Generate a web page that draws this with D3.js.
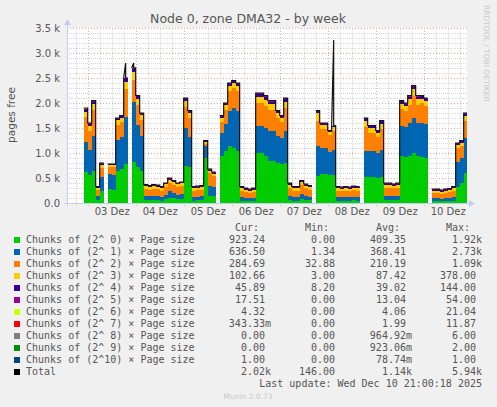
<!DOCTYPE html>
<html>
<head>
<meta charset="utf-8">
<script src="https://cdnjs.cloudflare.com/ajax/libs/d3/7.8.5/d3.min.js"></script>
<style>
body { margin: 0; background: #f0f0f0; }
svg { display: block; }
</style>
</head>
<body>
<div id="viz"></div>
<script>
// data: one value per 2-hour bin, first bin starts Dec 2 14:00 (null = no data)
var N = null;
var binStart = Date.UTC(2025, 11, 2, 14, 0);
var binHours = 2;

var chunks0 = [N,N,N,N,620,560,650,60,250,N, 280,260,650,680,780,N,820,720,650,70,
  60,70,65,50,80,110,95,80,85,750, 720,50,55,60,900,150,140,N,950,1050,
  1150,1100,1050,50,45,40,45,1000,1000,950, 850,850,800,780,800,60,50,50,80,60,
  55,N,550,580,580,560,570,50,45,50, 45,55,50,N,520,520,520,500,520,55,
  55,60,55,950,920,950,1000,950,920,900, N,40,40,35,40,40,50,330,400,600];
var chunks1 = [N,N,N,N,600,500,700,80,280,N, 300,310,620,640,950,N,1200,850,700,80,
  80,80,80,70,90,130,110,90,95,750, 600,70,70,75,250,200,180,N,450,530,
  700,800,800,70,60,55,60,550,550,550, 600,600,550,520,650,90,70,70,110,85,
  75,N,600,530,530,470,500,70,70,70, 70,70,70,N,530,520,520,500,540,90,
  90,85,90,600,600,650,700,650,680,680, N,55,55,50,55,60,70,500,500,700];
var chunks2 = [N,N,N,N,500,380,520,120,180,N, 140,150,300,300,550,N,450,400,320,140,
  130,140,135,130,150,170,160,150,160,420, 380,130,135,135,40,250,220,N,230,290,
  400,400,400,130,120,110,120,450,450,450, 420,420,350,320,450,160,130,130,170,150,
  140,N,500,380,380,330,380,130,130,130, 130,135,130,N,480,370,370,330,420,165,
  165,150,165,330,320,370,450,370,400,370, N,110,110,100,110,115,130,270,250,350];
var chunks3 = [N,N,N,N,110,100,110,40,55,N, 40,40,85,85,150,N,160,120,90,50,
  50,50,50,50,52,58,55,52,52,120, 100,50,50,50,40,50,50,N,80,90,
  100,100,100,50,45,45,45,120,120,120, 110,110,100,90,130,55,50,50,55,55,
  50,N,150,70,70,55,65,50,45,50, 45,50,50,N,110,90,90,80,110,55,
  55,55,55,110,105,115,130,115,90,90, N,45,45,45,45,45,50,60,60,100];
var chunks4 = [N,N,N,N,45,40,45,18,25,N, 15,15,30,30,50,N,50,45,30,20,
  20,20,20,20,18,22,20,18,18,40, 35,20,20,20,12,20,20,N,30,30,
  40,40,40,20,20,20,20,55,55,55, 50,50,35,30,50,25,20,20,25,20,
  20,N,40,30,30,25,25,20,20,20, 20,20,20,N,45,40,40,30,45,25,
  25,20,25,45,40,45,50,45,45,45, N,20,20,20,20,20,20,30,30,35];
var chunks5 = [N,N,N,N,15,12,15,6,6,N, 4,4,10,10,15,N,15,12,8,7,
  7,7,7,7,7,7,7,7,7,12, 10,7,7,7,5,7,7,N,7,7,
  7,7,7,7,7,7,7,17,17,17, 15,15,10,8,15,7,7,7,7,7,
  7,N,7,7,7,7,7,7,7,7, 7,7,7,N,10,7,7,7,10,7,
  7,7,7,10,10,12,14,12,10,10, N,7,7,7,7,7,7,7,7,10];
var chunks6 = [N,N,N,N,5,4,5,3,2,N, 1,1,3,3,4,N,3,2,1,2,
  2,2,2,2,2,2,2,2,2,5, 3,2,2,2,2,2,2,N,2,2,
  2,2,2,2,2,2,2,5,5,5, 3,3,3,1,3,2,2,2,2,2,
  2,N,2,2,2,2,2,2,2,2, 2,2,2,N,3,2,2,2,3,2,
  2,2,2,3,3,5,4,5,3,3, N,2,2,2,2,2,2,2,2,3];
var chunks7 = [N,N,N,N,3,2,3,1,1,N, 0,0,1,1,1,N,1,1,1,1,
  1,1,1,1,1,1,1,1,1,2, 1,1,1,1,1,1,1,N,1,1,
  1,1,1,1,1,1,1,2,2,2, 1,1,1,1,1,1,1,1,1,1,
  1,N,1,1,1,1,1,1,1,1, 1,1,1,N,1,1,1,1,1,1,
  1,1,1,1,1,2,1,2,1,1, N,1,1,1,1,1,1,1,1,0];
var chunks8 = [N,N,N,N,1,1,1,1,1,N, 0,0,1,1,0,N,1,0,0,0,
  0,0,0,0,0,0,0,0,0,1, 1,0,0,0,0,0,0,N,0,0,
  0,0,0,0,0,0,0,1,1,1, 1,1,1,0,1,0,0,0,0,0,
  0,N,0,0,0,0,0,0,0,0, 0,0,0,N,1,0,0,0,1,0,
  0,0,0,1,1,1,1,1,1,1, N,0,0,0,0,0,0,0,0,0];
var chunks9 = [N,N,N,N,1,1,1,1,1,N, 1,1,1,1,1,N,1,1,1,1,
  1,1,1,1,1,1,1,1,1,1, 1,1,1,1,1,1,1,N,1,1,
  1,1,1,1,1,1,1,1,1,1, 1,1,1,1,1,1,1,1,1,1,
  1,N,0,0,0,0,0,0,0,0, 0,0,0,N,0,0,0,0,0,0,
  0,0,0,0,0,0,0,0,0,0, N,0,0,0,0,0,0,0,0,0];
var chunks10 = [N,N,N,N,0,0,0,0,0,N, 0,0,0,0,0,N,0,0,0,0,
  0,0,0,0,0,0,0,0,0,0, 0,0,0,0,0,0,0,N,0,0,
  0,0,0,0,0,0,0,0,0,0, 0,0,0,0,0,0,0,0,0,0,
  0,N,0,0,0,0,0,0,0,0, 0,0,0,N,0,0,0,0,0,0,
  0,0,0,0,0,0,0,0,0,0, N,0,1,1,1,1,1,1,1,1];
var total = [N,N,N,N,1900,1600,2050,330,800,N, 780,780,1700,1750,2800,N,2800,2150,1800,370,
  350,370,360,330,400,500,450,400,420,2100, 1850,330,340,350,1250,680,620,N,1750,2000,
  2400,2450,2400,330,300,280,300,2200,2200,2150, 2050,2050,1850,1750,2100,400,330,330,450,380,
  350,N,1850,1600,1600,1450,3260,330,320,330, 320,340,330,N,1700,1550,1550,1450,1650,400,
  400,380,400,2050,2000,2150,2350,2150,2150,2100, N,280,280,260,280,290,330,1200,1250,1800];

var seriesNames = ['Chunks of (2^ 0) × Page size', 'Chunks of (2^ 1) × Page size',
  'Chunks of (2^ 2) × Page size', 'Chunks of (2^ 3) × Page size',
  'Chunks of (2^ 4) × Page size', 'Chunks of (2^ 5) × Page size',
  'Chunks of (2^ 6) × Page size', 'Chunks of (2^ 7) × Page size',
  'Chunks of (2^ 8) × Page size', 'Chunks of (2^ 9) × Page size',
  'Chunks of (2^10) × Page size', 'Total'];
var curVals = ['923.24', '636.50', '284.69', '102.66', '45.89', '17.51', '4.32', '343.33m', '0.00', '0.00', '1.00', '2.02k'];
var minVals = ['0.00', '1.34', '32.88', '3.00', '8.20', '0.00', '0.00', '0.00', '0.00', '0.00', '0.00', '146.00'];
var avgVals = ['409.35', '368.41', '210.19', '87.42', '39.02', '13.04', '4.06', '1.99', '964.92m', '923.06m', '78.74m', '1.14k'];
var maxVals = ['1.92k', '2.73k', '1.09k', '378.00', '144.00', '54.00', '21.04', '11.87', '6.00', '2.00', '1.00', '5.94k'];

var yTicks = [0, 500, 1000, 1500, 2000, 2500, 3000, 3500];
var yTickLabels = ['0.0', '0.5 k', '1.0 k', '1.5 k', '2.0 k', '2.5 k', '3.0 k', '3.5 k'];
var dayLabels = ['03 Dez', '04 Dez', '05 Dez', '06 Dez', '07 Dez', '08 Dez', '09 Dez', '10 Dez'];

var colors = ['#00cc00', '#0066b3', '#ff8000', '#ffcc00', '#330099', '#990099',
  '#ccff00', '#ff0000', '#808080', '#008f00', '#00487d', '#000000'];

var seriesData = [chunks0, chunks1, chunks2, chunks3, chunks4, chunks5, chunks6,
  chunks7, chunks8, chunks9, chunks10];

// layout
var W = 497, H = 407;
var plotL = 67, plotR = 467, plotT = 28, plotB = 203;
var mono = 'DejaVu Sans Mono, monospace';
var sans = 'DejaVu Sans, sans-serif';

var svg = d3.select('#viz').append('svg')
  .attr('width', W)
  .attr('height', H);

svg.append('rect').attr('width', W).attr('height', H).attr('fill', '#f0f0f0');

var x = d3.scaleUtc()
  .domain([new Date(Date.UTC(2025, 11, 2, 13, 40)), new Date(Date.UTC(2025, 11, 10, 21, 40))])
  .range([plotL, plotR]);
var y = d3.scaleLinear().domain([0, 3500]).range([plotB, plotT]);

svg.append('rect')
  .attr('x', plotL).attr('y', plotT)
  .attr('width', plotR - plotL).attr('height', plotB - plotT)
  .attr('fill', '#ffffff');

// grid
var grid = svg.append('g');
d3.range(100, 3500, 100).filter(function (v) { return v % 500 !== 0; }).forEach(function (v) {
  grid.append('line')
    .attr('x1', plotL).attr('x2', plotR)
    .attr('y1', Math.round(y(v)) + 0.5).attr('y2', Math.round(y(v)) + 0.5)
    .attr('stroke', '#d8d8d8').attr('stroke-dasharray', '1,1');
});
var t0 = x.domain()[0], t1 = x.domain()[1];
d3.utcHour.every(6).range(t0, t1).forEach(function (t) {
  if (t.getUTCHours() === 0) return;
  var xx = Math.round(x(t)) + 0.5;
  grid.append('line')
    .attr('x1', xx).attr('x2', xx).attr('y1', plotT).attr('y2', plotB + 2)
    .attr('stroke', '#d8d8d8').attr('stroke-dasharray', '1,1');
});
yTicks.slice(1).forEach(function (v) {
  grid.append('line')
    .attr('x1', plotL).attr('x2', plotR)
    .attr('y1', Math.round(y(v)) + 0.5).attr('y2', Math.round(y(v)) + 0.5)
    .attr('stroke', '#e8a8a8').attr('stroke-dasharray', '1,2');
});
d3.utcDay.range(t0, t1).forEach(function (t) {
  var xx = Math.round(x(t)) + 0.5;
  grid.append('line')
    .attr('x1', xx).attr('x2', xx).attr('y1', plotT).attr('y2', plotB + 3)
    .attr('stroke', '#e8a8a8').attr('stroke-dasharray', '1,2');
});

// stacked areas
var keys = seriesData.map(function (s, k) { return 'c' + k; });
var rows = chunks0.map(function (v, i) {
  var r = { i: i, ok: v !== null };
  seriesData.forEach(function (s, k) { r['c' + k] = s[i] === null ? 0 : s[i]; });
  return r;
});
var stacked = d3.stack().keys(keys)(rows);
var stackTop = stacked[stacked.length - 1].map(function (d) { return d[1]; });

function binTime(i) { return new Date(binStart + i * binHours * 3600000); }
function binMid(i) { return new Date(binStart + (i + 0.5) * binHours * 3600000); }

svg.append('clipPath').attr('id', 'plotClip')
  .append('rect').attr('x', plotL).attr('y', plotT - 2).attr('width', plotR - plotL).attr('height', plotB - plotT + 2);

var area = d3.area()
  .defined(function (d) { return d.ok; })
  .x(function (d) { return x(d.t); })
  .y0(function (d) { return y(d.y0); })
  .y1(function (d) { return y(d.y1); });

var plot = svg.append('g').attr('clip-path', 'url(#plotClip)');

stacked.forEach(function (layer, k) {
  var pts = [];
  layer.forEach(function (d, i) {
    if (!rows[i].ok) { pts.push({ ok: false }); return; }
    pts.push({ ok: true, t: binTime(i), y0: d[0], y1: d[1] });
    pts.push({ ok: true, t: binTime(i + 1), y0: d[0], y1: d[1] });
  });
  plot.append('path')
    .attr('d', area(pts))
    .attr('fill', colors[k])
    .attr('shape-rendering', 'crispEdges');
});

// total line: steps like the areas, a bin above the stack becomes a thin spike
var totPts = [];
total.forEach(function (v, i) {
  if (v === null) { totPts.push({ ok: false }); return; }
  if (v > stackTop[i] + 50) {
    totPts.push({ ok: true, t: binTime(i), v: stackTop[i] });
    totPts.push({ ok: true, t: binMid(i), v: v });
    totPts.push({ ok: true, t: binMid(i), v: stackTop[i] });
    totPts.push({ ok: true, t: binTime(i + 1), v: stackTop[i] });
  } else {
    totPts.push({ ok: true, t: binTime(i), v: v });
    totPts.push({ ok: true, t: binTime(i + 1), v: v });
  }
});
plot.append('path')
  .attr('d', d3.line()
    .defined(function (d) { return d.ok; })
    .x(function (d) { return x(d.t); })
    .y(function (d) { return y(d.v); })(totPts))
  .attr('fill', 'none')
  .attr('stroke', '#111')
  .attr('stroke-width', 1.2);

// axes
var axisCol = '#c4ccf0';
svg.append('line').attr('x1', plotL + 0.5).attr('x2', plotL + 0.5).attr('y1', plotT - 4).attr('y2', plotB + 3)
  .attr('stroke', axisCol);
svg.append('path').attr('d', 'M' + (plotL - 3) + ',' + (plotT - 3) + 'L' + (plotL + 0.5) + ',' + (plotT - 9) + 'L' + (plotL + 4) + ',' + (plotT - 3) + 'Z')
  .attr('fill', axisCol);
svg.append('line').attr('x1', plotL - 3).attr('x2', plotR + 3).attr('y1', plotB + 0.5).attr('y2', plotB + 0.5)
  .attr('stroke', axisCol);
svg.append('path').attr('d', 'M' + (plotR + 2) + ',' + (plotB - 3) + 'L' + (plotR + 8) + ',' + (plotB + 0.5) + 'L' + (plotR + 2) + ',' + (plotB + 4) + 'Z')
  .attr('fill', axisCol);

var yAxis = svg.append('g')
  .attr('transform', 'translate(' + plotL + ',0)')
  .call(d3.axisLeft(y).tickValues(yTicks).tickSize(0).tickPadding(7)
    .tickFormat(function (d, i) { return yTickLabels[i]; }));
yAxis.select('.domain').remove();
yAxis.selectAll('text').attr('fill', '#555').style('font-family', sans).style('font-size', '10px');

var days = d3.utcDay.range(t0, t1).map(function (t) { return new Date(t.getTime() + 12 * 3600000); });
var xAxis = svg.append('g')
  .attr('transform', 'translate(0,' + plotB + ')')
  .call(d3.axisBottom(x).tickValues(days).tickSize(0).tickPadding(5)
    .tickFormat(function (d, i) { return dayLabels[i]; }));
xAxis.select('.domain').remove();
xAxis.selectAll('text').attr('fill', '#555').style('font-family', sans).style('font-size', '10px');

// titles
svg.append('text')
  .attr('x', 248).attr('y', 23)
  .attr('text-anchor', 'middle')
  .attr('fill', '#555')
  .style('font-family', sans).style('font-size', '12.5px')
  .text('Node 0, zone DMA32 - by week');

svg.append('text')
  .attr('transform', 'translate(15,115) rotate(-90)')
  .attr('text-anchor', 'middle')
  .attr('fill', '#555')
  .style('font-family', sans).style('font-size', '10.5px')
  .text('pages free');

svg.append('text')
  .attr('transform', 'translate(484,5) rotate(90)')
  .attr('fill', '#c8c8c8')
  .style('font-family', sans).style('font-size', '7.5px')
  .text('RRDTOOL / TOBI OETIKER');

// legend
var lg = svg.append('g').style('font-family', mono).style('font-size', '10px').attr('fill', '#555');
var colRight = [271, 341, 412, 482];
['Cur:', 'Min:', 'Avg:', 'Max:'].forEach(function (h, j) {
  lg.append('text').attr('x', colRight[j] - 12).attr('y', 231).attr('text-anchor', 'end').text(h);
});
seriesNames.forEach(function (name, k) {
  var yy = 243 + k * 12;
  lg.append('rect').attr('x', 14).attr('y', yy - 6).attr('width', 6).attr('height', 6).attr('fill', colors[k]);
  lg.append('text').attr('x', 26).attr('y', yy).text(name);
  [curVals, minVals, avgVals, maxVals].forEach(function (arr, j) {
    var s = arr[k];
    var hasUnit = /[km]$/.test(s);
    lg.append('text')
      .attr('x', colRight[j] - (hasUnit ? 0 : 6))
      .attr('y', yy)
      .attr('text-anchor', 'end')
      .text(s);
  });
});
lg.append('text').attr('x', 482).attr('y', 387).attr('text-anchor', 'end')
  .text('Last update: Wed Dec 10 21:00:18 2025');

svg.append('text')
  .attr('x', 248).attr('y', 399)
  .attr('text-anchor', 'middle')
  .attr('fill', '#c8c8c8')
  .style('font-family', sans).style('font-size', '7.5px')
  .text('Munin 2.0.73');
</script>
</body>
</html>
